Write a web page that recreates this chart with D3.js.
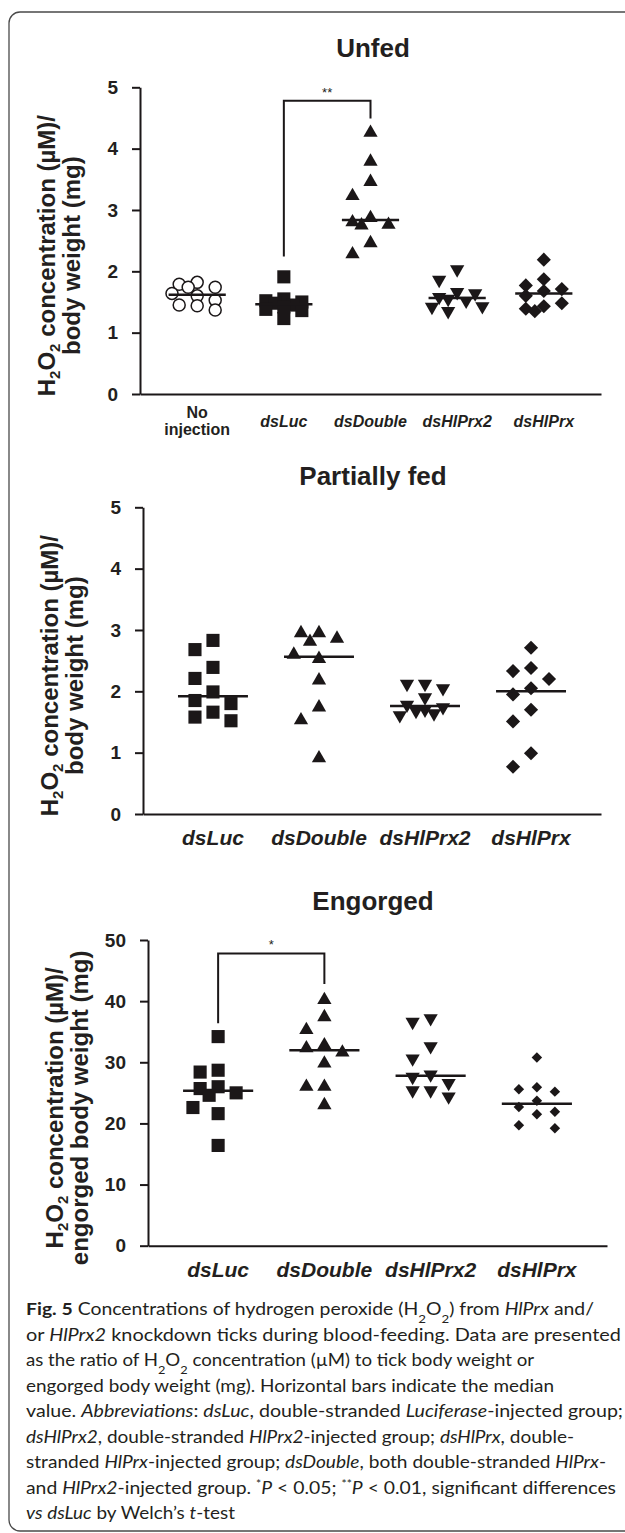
<!DOCTYPE html>
<html>
<head>
<meta charset="utf-8">
<script src="https://cdn.jsdelivr.net/npm/d3@7"></script>
<style>
  body { margin: 0; background: #fff; }
  svg text { font-family: "Liberation Sans", Arial, sans-serif; fill: #231f20; }
  svg text.cap { font-family: Lato, "Open Sans", sans-serif; }
</style>
</head>
<body>
<svg id="fig" width="625" height="1533"></svg>
<script>
// ── data (H2O2 µM / body weight mg) ──
const unfedGroups = ["No injection", "dsLuc", "dsDouble", "dsHlPrx2", "dsHlPrx"];
const unfedNoInjection = [1.82, 1.74, 1.74, 1.79, 1.60, 1.64, 1.53, 1.45, 1.37, 1.44];
const unfedDsLuc       = [1.91, 1.55, 1.52, 1.50, 1.48, 1.45, 1.42, 1.38, 1.36, 1.23];
const unfedDsDouble    = [4.26, 3.79, 3.46, 3.23, 2.87, 2.80, 2.75, 2.76, 2.46, 2.28];
const unfedDsHlPrx2    = [2.03, 1.86, 1.66, 1.64, 1.58, 1.55, 1.52, 1.43, 1.42, 1.35];
const unfedDsHlPrx     = [2.19, 1.87, 1.77, 1.71, 1.68, 1.60, 1.48, 1.43, 1.39, 1.35];

const fedGroups = ["dsLuc", "dsDouble", "dsHlPrx2", "dsHlPrx"];
const partDsLuc    = [2.83, 2.68, 2.39, 2.21, 1.99, 1.85, 1.80, 1.66, 1.58, 1.52];
const partDsDouble = [2.95, 2.86, 2.95, 2.81, 2.60, 2.53, 2.18, 1.74, 1.53, 0.91];
const partDsHlPrx2 = [2.12, 2.05, 2.12, 1.90, 1.78, 1.74, 1.70, 1.68, 1.64, 1.61];
const partDsHlPrx  = [2.71, 2.38, 2.33, 2.20, 2.05, 1.95, 1.70, 1.51, 0.99, 0.77];

const engDsLuc    = [34.2, 28.7, 28.4, 26.0, 25.7, 25.0, 24.6, 22.6, 21.6, 16.4];
const engDsDouble = [40.2, 37.4, 35.3, 32.8, 32.3, 31.6, 29.8, 26.0, 26.0, 23.0];
const engDsHlPrx2 = [37.2, 36.6, 32.6, 30.6, 28.0, 27.6, 26.6, 25.4, 25.4, 24.4];
const engDsHlPrx  = [30.8, 25.9, 25.6, 25.2, 23.7, 22.7, 21.9, 21.5, 19.7, 19.2];

const ticks5  = [0, 1, 2, 3, 4, 5];
const ticks50 = [0, 10, 20, 30, 40, 50];

// significance brackets: [from, to, top, left leg end, right leg end, stars]
const unfedSig = ["dsLuc", "dsDouble", 4.78, 2.24, 4.49, "**"];
const engSig   = ["dsLuc", "dsDouble", 47.8, 36.4, 42.8, "*"];

const SHAPE = { "No injection": "circle", dsLuc: "square", dsDouble: "up", dsHlPrx2: "down", dsHlPrx: "diamond" };

// caption lines, segments [text, style]
const captionLines = [
  [["Fig. 5", "b"], [" Concentrations of hydrogen peroxide (H", ""], ["2", "sub"], ["O", ""], ["2", "sub"], [") from ", ""], ["HlPrx", "i"], [" and/", ""]],
  [["or ", ""], ["HlPrx2", "i"], [" knockdown ticks during blood-feeding. Data are presented", ""]],
  [["as the ratio of H", ""], ["2", "sub"], ["O", ""], ["2", "sub"], [" concentration (µM) to tick body weight or", ""]],
  [["engorged body weight (mg). Horizontal bars indicate the median", ""]],
  [["value. ", ""], ["Abbreviations", "i"], [": ", ""], ["dsLuc", "i"], [", double-stranded ", ""], ["Luciferase", "i"], ["-injected group;", ""]],
  [["dsHlPrx2", "i"], [", double-stranded ", ""], ["HlPrx2", "i"], ["-injected group; ", ""], ["dsHlPrx", "i"], [", double-", ""]],
  [["stranded ", ""], ["HlPrx", "i"], ["-injected group; ", ""], ["dsDouble", "i"], [", both double-stranded ", ""], ["HlPrx", "i"], ["-", ""]],
  [["and ", ""], ["HlPrx2", "i"], ["-injected group. ", ""], ["*", "sup"], ["P", "i"], [" < 0.05; ", ""], ["**", "sup"], ["P", "i"], [" < 0.01, significant differences", ""]],
  [["vs", "i"], [" ", ""], ["dsLuc", "i"], [" by Welch’s ", ""], ["t", "i"], ["-test", ""]]
];
const captionEnds = [594, 621, 534, 554, 623, 574, 606, 616, 235];

// ── panels ──
const panels = [
  { title: "Unfed", titleY: 57, groups: unfedGroups,
    series: [unfedNoInjection, unfedDsLuc, unfedDsDouble, unfedDsHlPrx2, unfedDsHlPrx],
    ax: 140, axEnd: 601, y0: 394, yTop: 87.3, max: 5, ticks: ticks5,
    labelSize: 16, labelY: 427, ylab2: "body weight (mg)", sig: unfedSig, diamond: 100 },
  { title: "Partially fed", titleY: 485, groups: fedGroups,
    series: [partDsLuc, partDsDouble, partDsHlPrx2, partDsHlPrx],
    ax: 143, axEnd: 601, y0: 814, yTop: 507.3, max: 5, ticks: ticks5,
    labelSize: 21, labelY: 845, ylab2: "body weight (mg)", sig: null, diamond: 100 },
  { title: "Engorged", titleY: 910, groups: fedGroups,
    series: [engDsLuc, engDsDouble, engDsHlPrx2, engDsHlPrx],
    ax: 148, axEnd: 607, y0: 1245.7, yTop: 940, max: 50, ticks: ticks50,
    labelSize: 21, labelY: 1277, ylab2: "engorged body weight (mg)", sig: engSig, diamond: 55 }
];

const svg = d3.select("#fig");
const INK = "#1b1718";

// outer rounded frame
svg.append("rect")
  .attr("x", 9).attr("y", 12).attr("width", 700).attr("height", 1519)
  .attr("rx", 11).attr("fill", "none").attr("stroke", "#4a4a4a").attr("stroke-width", 1.3);

const symbol = d3.symbol();
function markerPath(shape, diamondSize) {
  if (shape === "circle") return symbol.type(d3.symbolCircle).size(113)();
  if (shape === "square") return symbol.type(d3.symbolSquare).size(172)();
  if (shape === "diamond") return symbol.type(d3.symbolSquare).size(diamondSize)();
  return symbol.type(d3.symbolTriangle).size(88)();
}
function markerRotate(shape) {
  return shape === "down" ? 180 : shape === "diamond" ? 45 : 0;
}

// Prism-like scatter: place points from the top, stepping sideways when they
// would sit too close to one already placed; if nothing is free, take the
// least crowded slot.
function swarm(vals, y, step, gap) {
  const placed = [];
  const order = vals.map((v, i) => i).sort((a, b) => vals[b] - vals[a]);
  const cands = [0, -step, step, -step / 2, step / 2, -1.4 * step, 1.4 * step];
  const room = (o, py) => placed.length === 0 ? Infinity
    : d3.min(placed, q => Math.max(Math.abs(q.dx - o), Math.abs(q.py - py)));
  order.forEach(i => {
    const py = y(vals[i]);
    let dx = cands.find(o => room(o, py) >= gap);
    if (dx === undefined) dx = cands[d3.maxIndex(cands, o => room(o, py))];
    placed.push({ v: vals[i], dx, py });
  });
  return placed;
}

panels.forEach(p => {
  const g = svg.append("g");
  const x = d3.scalePoint().domain(p.groups).range([p.ax, p.axEnd]).padding(0.66);
  const y = d3.scaleLinear().domain([0, p.max]).range([p.y0, p.yTop]);

  // title
  g.append("text")
    .attr("x", 373).attr("y", p.titleY)
    .attr("text-anchor", "middle")
    .attr("font-size", 26).attr("font-weight", "bold")
    .text(p.title);

  // y axis
  const yAxis = g.append("g")
    .attr("transform", `translate(${p.ax},0)`)
    .call(d3.axisLeft(y).tickValues(p.ticks).tickFormat(d3.format("d"))
      .tickSize(8).tickSizeOuter(0).tickPadding(14));
  yAxis.select(".domain").attr("stroke", INK).attr("stroke-width", 2);
  yAxis.selectAll(".tick line").attr("stroke", INK).attr("stroke-width", 2);
  yAxis.selectAll(".tick text")
    .attr("font-size", 19).attr("font-weight", "bold")
    .attr("font-family", "Liberation Sans, Arial, sans-serif").attr("fill", INK);

  // x axis (line only)
  const xAxis = g.append("g")
    .attr("transform", `translate(0,${p.y0})`)
    .call(d3.axisBottom(x).tickSize(0).tickSizeOuter(0).tickFormat(""));
  xAxis.select(".domain").attr("stroke", INK).attr("stroke-width", 2);

  // category labels
  p.groups.forEach(name => {
    if (name === "No injection") {
      ["No", "injection"].forEach((w, k) => {
        g.append("text")
          .attr("x", x(name)).attr("y", p.labelY - 9 + k * 17)
          .attr("text-anchor", "middle")
          .attr("font-size", p.labelSize).attr("font-weight", "bold")
          .text(w);
      });
    } else {
      g.append("text")
        .attr("x", x(name)).attr("y", p.labelY)
        .attr("text-anchor", "middle")
        .attr("font-size", p.labelSize).attr("font-weight", "bold").attr("font-style", "italic")
        .text(name);
    }
  });

  // y label, two rotated lines
  const cy = (p.y0 + p.yTop) / 2 + 15;
  const lab = g.append("g").attr("transform", `translate(${p.ax - 85},${cy}) rotate(-90)`);
  const l1 = lab.append("text").attr("x", 0).attr("y", 0)
    .attr("text-anchor", "middle").attr("font-size", 24).attr("font-weight", "bold");
  [["H", ""], ["2", "sub"], ["O", ""], ["2", "sub"], [" concentration (µM)/", ""]].forEach(([t, s]) => {
    const ts = l1.append("tspan").text(t);
    if (s === "sub") ts.attr("baseline-shift", "-5").attr("font-size", 15);
  });
  lab.append("text").attr("x", 0).attr("y", 25)
    .attr("text-anchor", "middle").attr("font-size", 24).attr("font-weight", "bold")
    .text(p.ylab2);

  // points + median bars
  const step = x.step();
  p.groups.forEach((name, gi) => {
    const vals = p.series[gi];
    const shape = SHAPE[name];
    const cx = x(name);
    const pts = swarm(vals, y, 18, 16);
    g.append("g").selectAll("path")
      .data(pts).join("path")
      .attr("d", markerPath(shape, p.diamond))
      .attr("transform", d => `translate(${cx + d.dx},${d.py}) rotate(${markerRotate(shape)})`)
      .attr("fill", shape === "circle" ? "#fff" : INK)
      .attr("stroke", INK)
      .attr("stroke-width", shape === "circle" ? 1.5 : 0);
    const med = d3.median(vals);
    g.append("line")
      .attr("x1", cx - step * 0.33).attr("x2", cx + step * 0.33)
      .attr("y1", y(med)).attr("y2", y(med))
      .attr("stroke", INK).attr("stroke-width", 2.5);
  });

  // significance bracket
  if (p.sig) {
    const [a, b, top, la, rb, stars] = p.sig;
    g.append("path")
      .attr("d", d3.line()([[x(a), y(la)], [x(a), y(top)], [x(b), y(top)], [x(b), y(rb)]]))
      .attr("fill", "none").attr("stroke", INK).attr("stroke-width", 2);
    g.append("text")
      .attr("x", (x(a) + x(b)) / 2).attr("y", y(top) - 4)
      .attr("text-anchor", "middle").attr("font-size", 13)
      .text(stars);
  }
});

// caption
const cap = svg.append("g");
captionLines.forEach((segs, i) => {
  const t = cap.append("text")
    .attr("class", "cap")
    .attr("x", 26).attr("y", 1315 + i * 25.5)
    .attr("font-size", 17.5)
    .attr("textLength", captionEnds[i] - 26)
    .attr("lengthAdjust", "spacingAndGlyphs");
  segs.forEach(([txt, s]) => {
    const ts = t.append("tspan").text(txt);
    if (s === "b") ts.attr("font-weight", "bold");
    if (s === "i") ts.attr("font-style", "italic");
    if (s === "sub") ts.attr("baseline-shift", "sub").attr("font-size", 12);
    if (s === "sup") ts.attr("baseline-shift", "super").attr("font-size", 11);
  });
});
</script>
</body>
</html>
